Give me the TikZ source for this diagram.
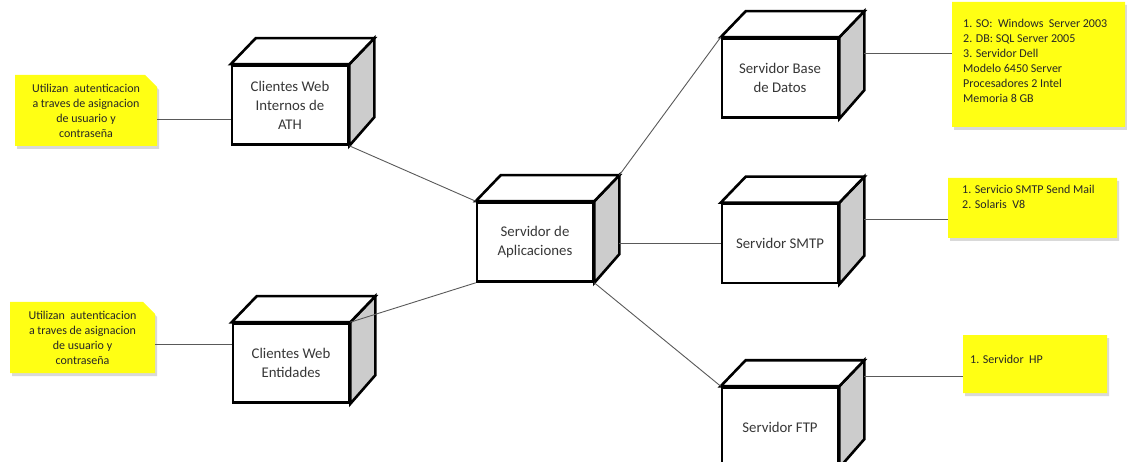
\documentclass[tikz,border=0pt]{standalone}
\usepackage{fontspec}
\setmainfont{Carlito}
\usetikzlibrary{shapes.misc,shadows}

\definecolor{notaamarilla}{RGB}{255,255,20}
\definecolor{ladogris}{RGB}{204,204,204}
\definecolor{textogris}{RGB}{55,55,55}

\tikzset{
  servidor/.style = {rectangle,
    draw = black,
    line width = 2.6pt,
    fill = white,
    text = textogris,
    align = center,
    inner sep = 0pt,
    font = \fontsize{14.8}{19}\selectfont,
    minimum width = 116pt,
    minimum height = 79pt},
  caralado/.style = {draw = black, line width = 2.6pt, fill = ladogris},
  caratapa/.style = {draw = black, line width = 2.6pt, fill = white},
  nota/.style = {chamfered rectangle,
    chamfered rectangle corners = north east,
    chamfered rectangle sep = 6pt,
    fill = notaamarilla,
    text = black!85,
    align = center,
    inner sep = 0pt,
    font = \fontsize{12}{15}\selectfont,
    drop shadow = {shadow xshift = 2pt, shadow yshift = -3pt, opacity = 0.3, fill = black!50}},
  textonota/.style = {align = left,
    inner sep = 0pt,
    text = black!85,
    font = \fontsize{12}{15}\selectfont},
  enlace/.style = {draw = black!65, line width = 0.9pt}
}

\begin{document}
\begin{tikzpicture}[x=1pt,y=-1pt]
\useasboundingbox (0,0) rectangle (1127,462);
\clip (0,0) rectangle (1127,462);

% servidores
\node[servidor] (cwi) at (290,105) {Clientes Web\\Internos de\\ATH};
\node[servidor] (cwe) at (291,363) {Clientes Web\\Entidades};
\node[servidor] (app) at (535,242) {Servidor de\\Aplicaciones};
\node[servidor] (bd) at (780,78) {Servidor Base\\de Datos};
\node[servidor] (smtp) at (780,243.5) {Servidor SMTP};
\node[servidor] (ftp) at (780,427) {Servidor FTP};

\foreach \n in {cwi,cwe,app,bd,smtp,ftp}{
  \filldraw[caralado] (\n.north east) -- ++(25,-26) coordinate (\n-bk) -- ++(0,79) -- (\n.south east) -- cycle;
  \filldraw[caratapa] (\n.north west) -- ++(25,-26) -- (\n-bk) -- (\n.north east) -- cycle;
}

% notas
\node[nota, minimum width = 142pt, minimum height = 71pt] (n1) at (86,110.5)
  {Utilizan~ autenticacion\\a traves de asignacion\\de usuario y\\contraseña};
\node[nota, minimum width = 145pt, minimum height = 71pt] (n2) at (82.5,337.5)
  {Utilizan~ autenticacion\\a traves de asignacion\\de usuario y\\contraseña};
\node[nota, minimum width = 173pt, minimum height = 125pt] (nbd) at (1038.5,64.5) {};
\node[nota, minimum width = 169pt, minimum height = 60pt] (nsmtp) at (1032.5,208) {};
\node[nota, minimum width = 144pt, minimum height = 58pt] (nftp) at (1035,364) {};

\node[textonota, anchor = north west] (tbd) at (963,19)
  {1. SO:~ Windows~ Server 2003\\2. DB: SQL Server 2005\\3. Servidor Dell\\Modelo 6450 Server\\Procesadores 2 Intel\\Memoria 8 GB};
\node[textonota, anchor = north west] (tsmtp) at (962,185)
  {1. Servicio SMTP Send Mail\\2. Solaris~ V8};
\node[textonota, anchor = west] (tftp) at (970,359) {1. Servidor~ HP};

% enlaces
\coordinate (e1) at ([yshift=-8.5pt]n1.east);
\coordinate (e2) at ([yshift=-6.5pt]n2.east);
\coordinate (e3) at ([yshift=11.5pt]nbd.west);
\coordinate (e4) at ([yshift=-11.5pt]nsmtp.west);
\coordinate (e5) at ([yshift=-12pt]nftp.west);

\draw[enlace] (e1) -- (e1 -| cwi.west);
\draw[enlace] (e2) -- (e2 -| cwe.west);
\draw[enlace] (cwi.south east) -- (app.north west);
\draw[enlace] (app.south west) -- (cwe.north east);
\draw[enlace] (app-bk) -- (bd.north west);
\draw[enlace] (smtp.west -| app-bk) -- (smtp.west);
\draw[enlace] (app.south east) -- (ftp.north west);
\draw[enlace] (e3 -| bd-bk) -- (e3);
\draw[enlace] (e4 -| smtp-bk) -- (e4);
\draw[enlace] (e5 -| ftp-bk) -- (e5);
\end{tikzpicture}
\end{document}
